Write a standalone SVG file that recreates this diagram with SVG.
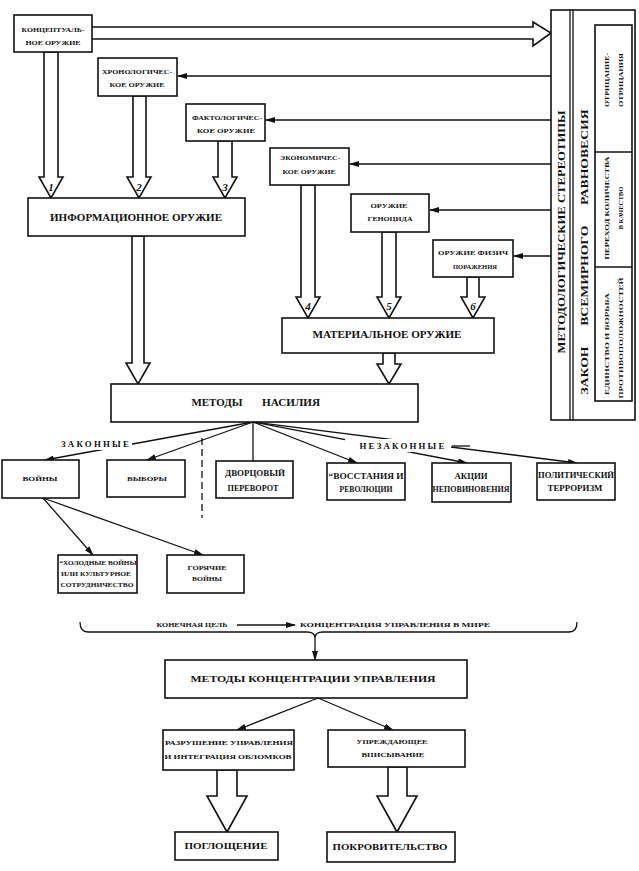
<svg xmlns="http://www.w3.org/2000/svg" width="639" height="871" viewBox="0 0 639 871">
<defs>
<marker id="ah" markerUnits="userSpaceOnUse" markerWidth="10" markerHeight="6" refX="9" refY="3" orient="auto">
<path d="M0,0 L10,3 L0,6 z" fill="#111"/>
</marker>
<style>
.box{fill:#fff;stroke:#111;stroke-width:1.6}
.ln{fill:none;stroke:#111;stroke-width:1.3}
.hol{fill:#fff;stroke:#111;stroke-width:1.6;stroke-linejoin:miter}
text{font-family:"Liberation Serif","DejaVu Serif",serif;fill:#111;font-weight:bold;text-anchor:middle;dominant-baseline:central}
.s{font-size:7px}
.m{font-size:8px}
.b{font-size:11px}
.n{font-size:11px;font-style:italic}
.lbl{font-size:8px;letter-spacing:2px}
</style>
</defs>
<rect width="639" height="871" fill="#fff"/>

<g id="connectors">
<path class="hol" d="M92,27 H533 V22 L551,33 L533,46 V39 H92"/>
<line class="ln" x1="551" y1="76" x2="178" y2="76" marker-end="url(#ah)"/>
<line class="ln" x1="551" y1="120" x2="266" y2="120" marker-end="url(#ah)"/>
<line class="ln" x1="551" y1="164" x2="350" y2="164" marker-end="url(#ah)"/>
<line class="ln" x1="551" y1="210" x2="430" y2="210" marker-end="url(#ah)"/>
<line class="ln" x1="551" y1="256" x2="514" y2="256" marker-end="url(#ah)"/>
<polygon class="hol" points="44,52 58,52 58,177 63,177 51,198 39,177 44,177"/>
<polygon class="hol" points="133,96 146,96 146,177 151,177 139,198 127,177 133,177"/>
<polygon class="hol" points="218,141 232,141 232,177 237,177 225,198 213,177 218,177"/>
<polygon class="hol" points="301,185 315,185 315,297 320,297 308,318 296,297 301,297"/>
<polygon class="hol" points="382,232 396,232 396,297 401,297 389,318 377,297 382,297"/>
<polygon class="hol" points="467,277 479,277 479,297 485,297 473,318 461,297 467,297"/>
<polygon class="hol" points="132,236 144,236 144,363 150,363 138,384 126,363 132,363"/>
<polygon class="hol" points="383,353 395,353 395,364 401,364 389,384 377,364 383,364"/>
<line class="ln" x1="253" y1="422" x2="45" y2="460" marker-end="url(#ah)"/>
<line class="ln" x1="253" y1="422" x2="147" y2="460" marker-end="url(#ah)"/>
<line class="ln" x1="253" y1="422" x2="253" y2="461"/>
<line class="ln" x1="253" y1="422" x2="357" y2="463" marker-end="url(#ah)"/>
<line class="ln" x1="253" y1="422" x2="467" y2="463" marker-end="url(#ah)"/>
<line class="ln" x1="253" y1="422" x2="577" y2="463" marker-end="url(#ah)"/>
<line class="ln" x1="202" y1="438" x2="202" y2="518" stroke-dasharray="7 4"/>
<line class="ln" x1="43" y1="498" x2="93" y2="555" marker-end="url(#ah)"/>
<line class="ln" x1="43" y1="498" x2="203" y2="555" marker-end="url(#ah)"/>
<path class="ln" d="M80,622 Q80,632 88,632 H307 Q315,632 315,638 Q315,632 323,632 H569 Q577,632 577,622"/>
<line class="ln" x1="315" y1="638" x2="315" y2="660" marker-end="url(#ah)"/>
<line class="ln" x1="237" y1="625" x2="295" y2="625" marker-end="url(#ah)"/>
<line class="ln" x1="318" y1="698" x2="237" y2="730" marker-end="url(#ah)"/>
<line class="ln" x1="318" y1="698" x2="393" y2="730" marker-end="url(#ah)"/>
<polygon class="hol" points="217,770 237,770 237,796 247,796 227,832 207,796 217,796"/>
<polygon class="hol" points="388,767 407,767 407,796 417,796 397,832 377,796 388,796"/>
</g>

<g id="arrow-numbers">
<text class="n" x="51" y="187">1</text>
<text class="n" x="139" y="187">2</text>
<text class="n" x="225" y="187">3</text>
<text class="n" x="308" y="306">4</text>
<text class="n" x="389" y="306">5</text>
<text class="n" x="473" y="306">6</text>
</g>

<g id="panel">
<rect class="box" x="551" y="10" width="84" height="410"/>
<line class="ln" x1="570" y1="10" x2="570" y2="420"/>
<line class="ln" x1="573" y1="10" x2="573" y2="420"/>
<rect class="box" x="595" y="25" width="37" height="376"/>
<line class="ln" x1="595" y1="152" x2="632" y2="152"/>
<line class="ln" x1="595" y1="267" x2="632" y2="267"/>
<text class="b" x="561" y="232" transform="rotate(-90 561 232)" textLength="243" lengthAdjust="spacingAndGlyphs">МЕТОДОЛОГИЧЕСКИЕ СТЕРЕОТИПЫ</text>
<text class="b" x="584" y="252" transform="rotate(-90 584 252)" textLength="285" lengthAdjust="spacingAndGlyphs" word-spacing="14">ЗАКОН ВСЕМИРНОГО РАВНОВЕСИЯ</text>
<text class="s" x="607" y="80" transform="rotate(-90 607 80)" textLength="54" lengthAdjust="spacingAndGlyphs">ОТРИЦАНИЕ-</text>
<text class="s" x="621" y="80" transform="rotate(-90 621 80)" textLength="54" lengthAdjust="spacingAndGlyphs">ОТРИЦАНИЯ</text>
<text class="s" x="607" y="208" transform="rotate(-90 607 208)" textLength="103" lengthAdjust="spacingAndGlyphs">ПЕРЕХОД КОЛИЧЕСТВА</text>
<text class="s" x="621" y="208" transform="rotate(-90 621 208)" textLength="43" lengthAdjust="spacingAndGlyphs">В КАЧЕСТВО</text>
<text class="s" x="607" y="344" transform="rotate(-90 607 344)" textLength="102" lengthAdjust="spacingAndGlyphs">ЕДИНСТВО И БОРЬБА</text>
<text class="s" x="621" y="338" transform="rotate(-90 621 338)" textLength="121" lengthAdjust="spacingAndGlyphs">ПРОТИВОПОЛОЖНОСТЕЙ</text>
</g>

<g id="n-concept">
<rect class="box" x="14" y="15" width="78" height="37"/>
<text class="s" x="53" y="30" textLength="63" lengthAdjust="spacingAndGlyphs">КОНЦЕПТУАЛЬ-</text>
<text class="s" x="53" y="43" textLength="55" lengthAdjust="spacingAndGlyphs">НОЕ ОРУЖИЕ</text>
</g>
<g id="n-chrono">
<rect class="box" x="98" y="58" width="79" height="38"/>
<text class="s" x="137" y="72" textLength="70" lengthAdjust="spacingAndGlyphs">ХРОНОЛОГИЧЕС-</text>
<text class="s" x="137" y="85" textLength="55" lengthAdjust="spacingAndGlyphs">КОЕ  ОРУЖИЕ</text>
</g>
<g id="n-facto">
<rect class="box" x="186" y="104" width="79" height="37"/>
<text class="s" x="227" y="118" textLength="70" lengthAdjust="spacingAndGlyphs">ФАКТОЛОГИЧЕС-</text>
<text class="s" x="226" y="131" textLength="58" lengthAdjust="spacingAndGlyphs">КОЕ  ОРУЖИЕ</text>
</g>
<g id="n-econ">
<rect class="box" x="270" y="148" width="79" height="37"/>
<text class="s" x="310" y="158" textLength="60" lengthAdjust="spacingAndGlyphs">ЭКОНОМИЧЕС-</text>
<text class="s" x="309" y="172" textLength="53" lengthAdjust="spacingAndGlyphs">КОЕ  ОРУЖИЕ</text>
</g>
<g id="n-genocide">
<rect class="box" x="351" y="194" width="78" height="38"/>
<text class="s" x="389" y="206" textLength="37" lengthAdjust="spacingAndGlyphs">ОРУЖИЕ</text>
<text class="s" x="390" y="219" textLength="45" lengthAdjust="spacingAndGlyphs">ГЕНОЦИДА</text>
</g>
<g id="n-phys">
<rect class="box" x="433" y="240" width="80" height="37"/>
<text class="s" x="473" y="253" textLength="70" lengthAdjust="spacingAndGlyphs">ОРУЖИЕ  ФИЗИЧ</text>
<text class="s" x="475" y="267" textLength="44" lengthAdjust="spacingAndGlyphs">ПОРАЖЕНИЯ</text>
</g>
<g id="n-info">
<rect class="box" x="28" y="198" width="217" height="38"/>
<text class="b" x="136" y="217" textLength="172" lengthAdjust="spacingAndGlyphs">ИНФОРМАЦИОННОЕ ОРУЖИЕ</text>
</g>
<g id="n-material">
<rect class="box" x="282" y="318" width="212" height="35"/>
<text class="b" x="387" y="334" textLength="149" lengthAdjust="spacingAndGlyphs">МАТЕРИАЛЬНОЕ ОРУЖИЕ</text>
</g>
<g id="n-violence">
<rect class="box" x="111" y="384" width="307" height="38"/>
<text class="b" x="217" y="402" textLength="51" lengthAdjust="spacingAndGlyphs">МЕТОДЫ</text>
<text class="b" x="291" y="402" textLength="58" lengthAdjust="spacingAndGlyphs">НАСИЛИЯ</text>
</g>

<g id="labels">
<rect x="58" y="437" width="74" height="13" fill="#fff"/>
<text class="lbl" x="96" y="444" textLength="70" lengthAdjust="spacingAndGlyphs">ЗАКОННЫЕ</text>
<rect x="345" y="439" width="106" height="13" fill="#fff"/>
<text class="lbl" x="403" y="446" textLength="87" lengthAdjust="spacingAndGlyphs">НЕЗАКОННЫЕ</text>
<line class="ln" x1="452" y1="446" x2="470" y2="446"/>
</g>

<g id="n-wars">
<rect class="box" x="2" y="460" width="77" height="38"/>
<text class="s" x="40" y="479" textLength="35" lengthAdjust="spacingAndGlyphs">ВОЙНЫ</text>
</g>
<g id="n-elections">
<rect class="box" x="107" y="460" width="78" height="37"/>
<text class="s" x="147" y="479" textLength="40" lengthAdjust="spacingAndGlyphs">ВЫБОРЫ</text>
</g>
<g id="n-coup">
<rect class="box" x="216" y="461" width="77" height="37"/>
<text class="m" x="255" y="473" textLength="60" lengthAdjust="spacingAndGlyphs">ДВОРЦОВЫЙ</text>
<text class="m" x="253" y="488" textLength="51" lengthAdjust="spacingAndGlyphs">ПЕРЕВОРОТ</text>
</g>
<g id="n-uprising">
<rect class="box" x="327" y="463" width="78" height="37"/>
<text class="m" x="366" y="476" textLength="75" lengthAdjust="spacingAndGlyphs">“ВОССТАНИЯ И</text>
<text class="m" x="366" y="489" textLength="53" lengthAdjust="spacingAndGlyphs">РЕВОЛЮЦИИ</text>
</g>
<g id="n-disobedience">
<rect class="box" x="432" y="463" width="79" height="39"/>
<text class="m" x="471" y="476" textLength="33" lengthAdjust="spacingAndGlyphs">АКЦИИ</text>
<text class="m" x="471" y="489" textLength="77" lengthAdjust="spacingAndGlyphs">НЕПОВИНОВЕНИЯ</text>
</g>
<g id="n-terror">
<rect class="box" x="537" y="463" width="78" height="37"/>
<text class="m" x="576" y="475" textLength="76" lengthAdjust="spacingAndGlyphs">ПОЛИТИЧЕСКИЙ</text>
<text class="m" x="575" y="488" textLength="55" lengthAdjust="spacingAndGlyphs">ТЕРРОРИЗМ</text>
</g>
<g id="n-cold">
<rect class="box" x="58" y="555" width="79" height="38"/>
<text class="s" x="98" y="563" textLength="77" lengthAdjust="spacingAndGlyphs">“ХОЛОДНЫЕ ВОЙНЫ</text>
<text class="s" x="96" y="574" textLength="70" lengthAdjust="spacingAndGlyphs">ИЛИ КУЛЬТУРНОЕ</text>
<text class="s" x="97" y="585" textLength="73" lengthAdjust="spacingAndGlyphs">СОТРУДНИЧЕСТВО</text>
</g>
<g id="n-hot">
<rect class="box" x="167" y="555" width="77" height="38"/>
<text class="s" x="207" y="568" textLength="39" lengthAdjust="spacingAndGlyphs">ГОРЯЧИЕ</text>
<text class="s" x="207" y="579" textLength="30" lengthAdjust="spacingAndGlyphs">ВОЙНЫ</text>
</g>

<g id="goal">
<text class="s" x="192" y="625" textLength="71" lengthAdjust="spacingAndGlyphs">КОНЕЧНАЯ ЦЕЛЬ</text>
<text class="s" x="395" y="625" textLength="190" lengthAdjust="spacingAndGlyphs">КОНЦЕНТРАЦИЯ УПРАВЛЕНИЯ В МИРЕ</text>
</g>

<g id="n-concentration">
<rect class="box" x="165" y="660" width="302" height="38"/>
<text class="m" x="313" y="679" textLength="245" lengthAdjust="spacingAndGlyphs">МЕТОДЫ КОНЦЕНТРАЦИИ УПРАВЛЕНИЯ</text>
</g>
<g id="n-destruction">
<rect class="box" x="163" y="730" width="131" height="40"/>
<text class="s" x="229" y="743" textLength="128" lengthAdjust="spacingAndGlyphs">РАЗРУШЕНИЕ УПРАВЛЕНИЯ</text>
<text class="s" x="228" y="757" textLength="127" lengthAdjust="spacingAndGlyphs">И ИНТЕГРАЦИЯ ОБЛОМКОВ</text>
</g>
<g id="n-preempt">
<rect class="box" x="328" y="730" width="137" height="37"/>
<text class="s" x="392" y="742" textLength="71" lengthAdjust="spacingAndGlyphs">УПРЕЖДАЮЩЕЕ</text>
<text class="s" x="393" y="755" textLength="63" lengthAdjust="spacingAndGlyphs">ВПИСЫВАНИЕ</text>
</g>
<g id="n-absorption">
<rect class="box" x="175" y="832" width="103" height="28"/>
<text class="m" x="226" y="846" textLength="83" lengthAdjust="spacingAndGlyphs">ПОГЛОЩЕНИЕ</text>
</g>
<g id="n-patronage">
<rect class="box" x="327" y="832" width="128" height="30"/>
<text class="m" x="390" y="847" textLength="115" lengthAdjust="spacingAndGlyphs">ПОКРОВИТЕЛЬСТВО</text>
</g>
</svg>
